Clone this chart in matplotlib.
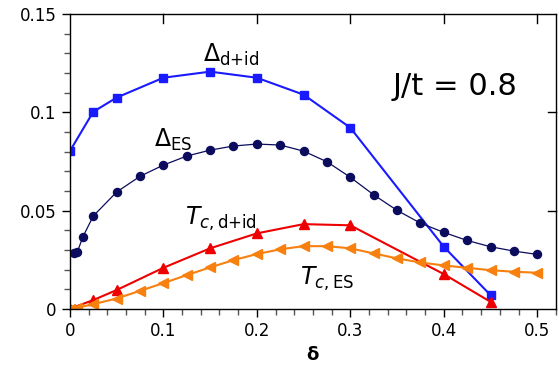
import numpy as np
import matplotlib
matplotlib.use("Agg")
import matplotlib.pyplot as plt
from matplotlib.ticker import MultipleLocator

# Delta_d+id (blue squares)
x_did = [0.0, 0.025, 0.05, 0.1, 0.15, 0.2, 0.25, 0.3, 0.4, 0.45]
gap_did = [0.0803, 0.1003, 0.1075, 0.1176, 0.1207, 0.1176, 0.109, 0.0922, 0.0317, 0.0071]

# Delta_ES (navy circles)
x_es = [0.004, 0.008, 0.014, 0.025, 0.05, 0.075, 0.1, 0.125, 0.15, 0.175, 0.2, 0.225,
        0.25, 0.275, 0.3, 0.325, 0.35, 0.375, 0.4, 0.425, 0.45, 0.475, 0.5]
gap_es = [0.0283, 0.0291, 0.0368, 0.0473, 0.0595, 0.0675, 0.0732, 0.0778, 0.0808, 0.0829,
          0.0839, 0.0834, 0.0803, 0.0749, 0.0670, 0.0581, 0.0502, 0.0437, 0.0390, 0.0349,
          0.0317, 0.0295, 0.0278]

# Tc,d+id (red triangles)
x_tc_did = [0.0, 0.025, 0.05, 0.1, 0.15, 0.2, 0.25, 0.3, 0.4, 0.45]
tc_did = [0.0002, 0.0046, 0.0097, 0.021, 0.0309, 0.0385, 0.0432, 0.0426, 0.0178, 0.0037]

# Tc,ES (orange left triangles)
x_tc_es = [0.0, 0.008, 0.025, 0.05, 0.075, 0.1, 0.125, 0.15, 0.175, 0.2, 0.225, 0.25,
           0.275, 0.3, 0.325, 0.35, 0.375, 0.4, 0.425, 0.45, 0.475, 0.5]
tc_es = [0.0, 0.0008, 0.0025, 0.0054, 0.0093, 0.0132, 0.0173, 0.0212, 0.0249, 0.028,
         0.0304, 0.032, 0.032, 0.0309, 0.0283, 0.0258, 0.0237, 0.0222, 0.021, 0.0198,
         0.019, 0.0185]

fig = plt.figure(figsize=(5.59, 3.72), dpi=100)
ax = fig.add_axes([0.125, 0.169, 0.8696, 0.7934])

ax.plot(x_did, gap_did, '-s', color='#1a1aff', lw=1.5, ms=6.3)
ax.plot(x_es, gap_es, '-o', color='#0c0c5e', lw=0.9, ms=5.8)
ax.plot(x_tc_did, tc_did, '-^', color='#ee0000', lw=1.5, ms=7)
ax.plot(x_tc_es, tc_es, '-<', color='#f7800f', lw=1.5, ms=7)

ax.set_xlim(0, 0.52)
ax.set_ylim(0, 0.15)
ax.xaxis.set_minor_locator(MultipleLocator(0.02))
ax.yaxis.set_minor_locator(MultipleLocator(0.01))
ax.set_xticks([0, 0.1, 0.2, 0.3, 0.4, 0.5])
ax.set_xticklabels(['0', '0.1', '0.2', '0.3', '0.4', '0.5'])
ax.set_yticks([0, 0.05, 0.1, 0.15])
ax.set_yticklabels(['0', '0.05', '0.1', '0.15'])
ax.tick_params(which='major', direction='out', length=6, width=1, labelsize=12,
               top=False, right=False)
ax.tick_params(which='minor', direction='out', length=4, width=1, color='#555555',
               top=False, right=False)

# inward major ticks on top and right
for xv in [0.1, 0.2, 0.3, 0.4, 0.5]:
    ax.plot([xv, xv], [0.15, 0.15 - 0.0045], color='k', lw=1, clip_on=False)
for yv in [0.05, 0.1]:
    ax.plot([0.52, 0.52 - 0.0085], [yv, yv], color='k', lw=1, clip_on=False)

for s in ax.spines.values():
    s.set_linewidth(1)

ax.set_xlabel(r'$\mathbf{\delta}$', fontsize=13, labelpad=4)

ax.text(0.1424, 0.1256, r'$\Delta_{\rm d{+}id}$', fontsize=17)
ax.text(0.090, 0.0825, r'$\Delta_{\rm ES}$', fontsize=17)
ax.text(0.123, 0.0427, r'$T_{c,\rm d{+}id}$', fontsize=17)
ax.text(0.246, 0.0122, r'$T_{c,\rm ES}$', fontsize=17)
ax.text(0.345, 0.1088, 'J/t = 0.8', fontsize=22)

fig.savefig('out.png', dpi=100)
